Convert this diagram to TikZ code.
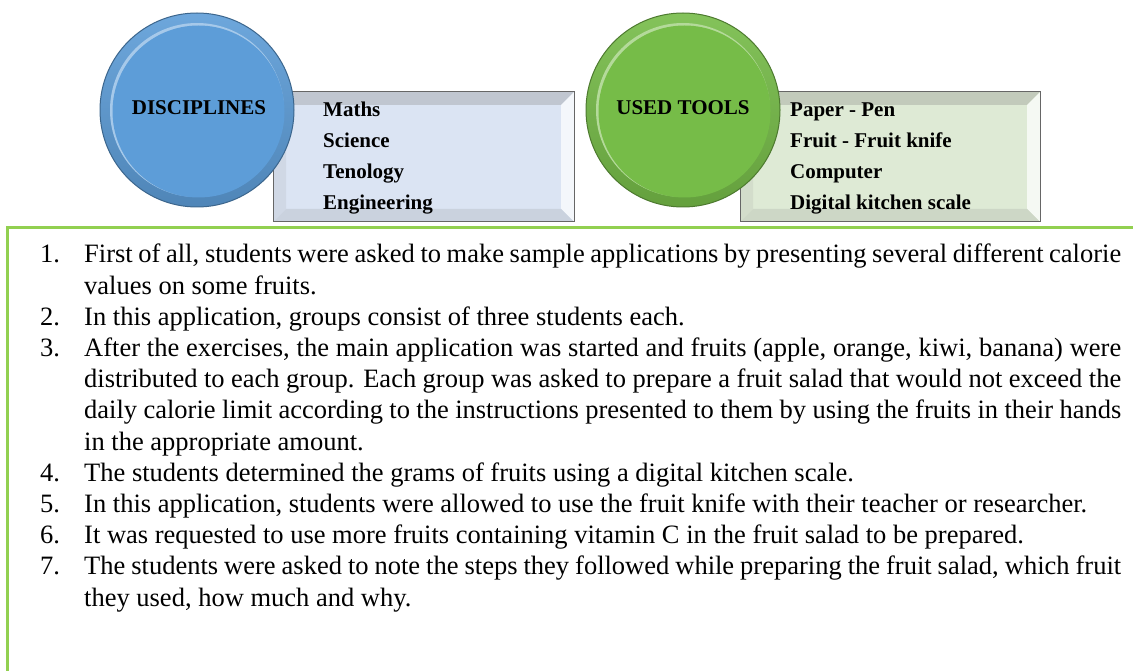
\documentclass[tikz,border=0pt]{standalone}
\usepackage{fontspec}
\setmainfont{Liberation Serif}
\definecolor{ballblue}{RGB}{93,157,216}
\definecolor{ballgreen}{RGB}{118,188,72}
\definecolor{boxblue}{RGB}{219,228,243}
\definecolor{boxgreen}{RGB}{222,234,213}
\definecolor{framegreen}{RGB}{146,208,80}
\newcommand\listline[1]{\noindent\hangindent=44pt\hangafter=1\makebox[44pt][l]{#1}}

\begin{document}
\begin{tikzpicture}[x=1pt,y=-1pt,
  boxtext/.style={anchor=base west,inner sep=0,font=\fontsize{21}{31}\selectfont\bfseries},
  balltext/.style={inner sep=0,font=\fontsize{21}{25}\selectfont\bfseries},
  edge/.style={draw=black!60,line width=1pt}]
\useasboundingbox (0,0) rectangle (1133,671);
% blue box
\fill[boxblue] (273,92) rectangle (574,222);
\fill[boxblue!70!gray] (273,92) -- (574,92) -- (561,105) -- (286,105) -- cycle;
\fill[boxblue!88!gray] (273,92) -- (286,105) -- (286,209) -- (273,222) -- cycle;
\fill[boxblue!30!white] (574,92) -- (561,105) -- (561,209) -- (574,222) -- cycle;
\fill[boxblue!82!gray] (273,222) -- (286,209) -- (561,209) -- (574,222) -- cycle;
\draw[edge] (273,92) rectangle (574,222);
% green box
\fill[boxgreen] (740,92) rectangle (1040,222);
\fill[boxgreen!70!gray] (740,92) -- (1040,92) -- (1027,105) -- (753,105) -- cycle;
\fill[boxgreen!88!gray] (740,92) -- (753,105) -- (753,209) -- (740,222) -- cycle;
\fill[boxgreen!30!white] (1040,92) -- (1027,105) -- (1027,209) -- (1040,222) -- cycle;
\fill[boxgreen!82!gray] (740,222) -- (753,209) -- (1027,209) -- (1040,222) -- cycle;
\draw[edge] (740,92) rectangle (1040,222);
% balls
\shade[top color=ballblue!90!white,bottom color=ballblue!85!black] (197,110) circle (97);
\draw[ballblue!65!black,line width=1pt] (197,110) circle (97);
\fill[ballblue!55!white] (197,110) circle (87);
\fill[ballblue] (198.5,111.5) circle (86);
\shade[top color=ballgreen!90!white,bottom color=ballgreen!85!black] (683,110) circle (97);
\draw[ballgreen!65!black,line width=1pt] (683,110) circle (97);
\fill[ballgreen!55!white] (683,110) circle (87);
\fill[ballgreen] (684.5,111.5) circle (86);
\node[balltext] (disc) at (199,108) {DISCIPLINES};
\node[balltext] (tools) at (683,108) {USED TOOLS};
\foreach \t [count=\i] in {Maths,Science,Tenology,Engineering}
  \node[boxtext] (d\i) at (323,{117+31*(\i-1)}) {\t};
\foreach \t [count=\i] in {Paper - Pen,Fruit - Fruit knife,Computer,Digital kitchen scale}
  \node[boxtext] (t\i) at (790,{117+31*(\i-1)}) {\t};
% frame
\draw[framegreen,line width=3pt] (7.5,671) -- (7.5,228) -- (1133,228);
\node[anchor=base west,inner sep=0,text width=1081pt,align=justify,
  font=\fontsize{26.5}{31.2}\selectfont] (steps) at (40,263) {%
\hyphenpenalty=10000 \tolerance=9999 \emergencystretch=20pt
\listline{1.}First of all, students were asked to make sample applications by presenting several different calorie\linebreak values on some fruits.\par
\listline{2.}In this application, groups consist of three students each.\par
\listline{3.}After the exercises, the main application was started and fruits (apple, orange, kiwi, banana) were\linebreak distributed to each group. Each group was asked to prepare a fruit salad that would not exceed the\linebreak daily calorie limit according to the instructions presented to them by using the fruits in their hands\linebreak in the appropriate amount.\par
\listline{4.}The students determined the grams of fruits using a digital kitchen scale.\par
\listline{5.}In this application, students were allowed to use the fruit knife with their teacher or researcher.\par
\listline{6.}It was requested to use more fruits containing vitamin C in the fruit salad to be prepared.\par
\listline{7.}The students were asked to note the steps they followed while preparing the fruit salad, which fruit\linebreak they used, how much and why.\par};
\end{tikzpicture}
\end{document}
